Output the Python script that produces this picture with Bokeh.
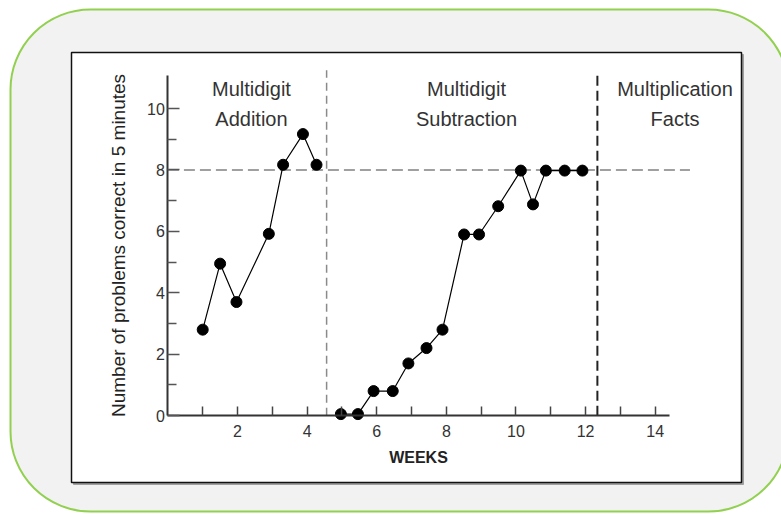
from bokeh.plotting import figure
from bokeh.models import BoxAnnotation, Label, FixedTicker, Range1d
from bokeh.embed import file_html
from bokeh.resources import INLINE

# ---- data ----
addition_weeks = [1.0, 1.5, 1.97, 2.9, 3.31, 3.88, 4.27]
addition_scores = [2.8, 4.95, 3.7, 5.92, 8.17, 9.17, 8.17]

subtraction_weeks = [4.97, 5.46, 5.91, 6.46, 6.91, 7.43, 7.89, 8.51, 8.94, 9.49,
                     10.14, 10.49, 10.86, 11.4, 11.91]
subtraction_scores = [0.05, 0.05, 0.8, 0.8, 1.7, 2.2, 2.8, 5.9, 5.9, 6.82,
                      7.98, 6.88, 7.98, 7.98, 7.98]

phase_names = ["Multidigit\nAddition", "Multidigit\nSubtraction", "Multiplication\nFacts"]
phase_change_weeks = [4.56, 12.34]
criterion = 8

x_ticks = [2, 4, 6, 8, 10, 12, 14]
x_minor_ticks = [1, 3, 5, 7, 9, 11, 13]
y_ticks = [0, 2, 4, 6, 8, 10]
y_minor_ticks = [1, 3, 5, 7, 9]

x_label = "WEEKS"
y_label = "Number of problems correct in 5 minutes"

FONT = "Liberation Sans"
TXT = "#333333"

p = figure(width=781, height=514,
           x_range=Range1d(-4.81, 17.63), y_range=Range1d(-3.22, 13.52),
           output_backend="svg", toolbar_location=None,
           min_border=0, min_border_left=0, min_border_right=0,
           min_border_top=0, min_border_bottom=0,
           background_fill_color="white", border_fill_color="white",
           outline_line_color=None)
p.xgrid.visible = False
p.ygrid.visible = False

# ---- decorative panels (canvas units) ----
def panel(l, r, t, b, **kw):
    return BoxAnnotation(left=l, right=r, top=t, bottom=b,
                         left_units="canvas", right_units="canvas",
                         top_units="canvas", bottom_units="canvas",
                         level="underlay", **kw)

p.add_layout(panel(10, 788, 9, 511, fill_color="#f2f2f2", fill_alpha=1.0,
                   line_color="#92d050", line_width=2, line_alpha=1.0,
                   border_radius=80))
p.add_layout(panel(73, 743, 54, 484, fill_color="#a0a0a0", fill_alpha=1.0,
                   line_color="#a0a0a0", line_width=1, line_alpha=1.0))
p.add_layout(panel(71, 741, 52, 482, fill_color="white", fill_alpha=1.0,
                   line_color="#111111", line_width=1.5, line_alpha=1.0))

# ---- axes ----
xa = p.xaxis[0]
xa.fixed_location = 0
xa.bounds = (0, 14.4)
xa.ticker = FixedTicker(ticks=x_ticks, minor_ticks=x_minor_ticks)
xa.major_tick_in = 9
xa.major_tick_out = 0
xa.minor_tick_in = 9
xa.minor_tick_out = 0
xa.major_tick_line_color = "#444444"
xa.minor_tick_line_color = "#444444"
xa.major_tick_line_width = 1.5
xa.minor_tick_line_width = 1.5
xa.axis_line_color = "#333333"
xa.axis_line_width = 2
xa.major_label_text_font = FONT
xa.major_label_text_font_size = "16px"
xa.major_label_text_color = TXT
xa.major_label_standoff = 9
xa.axis_label = x_label
xa.axis_label_text_font = FONT
xa.axis_label_text_font_size = "16px"
xa.axis_label_text_font_style = "bold"
xa.axis_label_text_color = "#222222"
xa.axis_label_standoff = 9

ya = p.yaxis[0]
ya.fixed_location = 0
ya.bounds = (0, 11.07)
ya.ticker = FixedTicker(ticks=y_ticks, minor_ticks=y_minor_ticks)
ya.major_tick_in = 12
ya.major_tick_out = 0
ya.minor_tick_in = 9
ya.minor_tick_out = 0
ya.major_tick_line_color = "#555555"
ya.minor_tick_line_color = "#555555"
ya.major_tick_line_width = 1.5
ya.minor_tick_line_width = 1.5
ya.axis_line_color = "#333333"
ya.axis_line_width = 2
ya.major_label_text_font = FONT
ya.major_label_text_font_size = "16px"
ya.major_label_text_color = TXT
ya.major_label_standoff = 3
ya.axis_label = y_label
ya.axis_label_text_font = FONT
ya.axis_label_text_font_size = "19px"
ya.axis_label_text_font_style = "normal"
ya.axis_label_text_color = "#222222"
ya.axis_label_standoff = 15

# ---- criterion and phase-change lines ----
p.segment(x0=[0], y0=[criterion], x1=[15.0], y1=[criterion],
          line_color="#a0a0a0", line_width=2, line_dash="11 5")
p.segment(x0=[phase_change_weeks[0]], y0=[0], x1=[phase_change_weeks[0]], y1=[11.25],
          line_color="#8a8a8a", line_width=1.5, line_dash="8 5")
p.segment(x0=[phase_change_weeks[1]], y0=[0], x1=[phase_change_weeks[1]], y1=[11.2],
          line_color="#222222", line_width=2, line_dash="10 5")

# ---- data series ----
for wx, wy in ((addition_weeks, addition_scores), (subtraction_weeks, subtraction_scores)):
    p.line(wx, wy, line_color="black", line_width=1.2)
    p.scatter(wx, wy, size=11, fill_color="black", line_color="black", marker="circle")

# ---- phase labels ----
label_x = [2.4, 8.58, 14.57]
for name, lx in zip(phase_names, label_x):
    p.add_layout(Label(x=lx, y=11.0, text=name, text_align="center",
                       text_baseline="top", text_font=FONT,
                       text_font_size="20px", text_color=TXT,
                       text_line_height=1.35))

open("out.html", "w").write(file_html(p, INLINE))
